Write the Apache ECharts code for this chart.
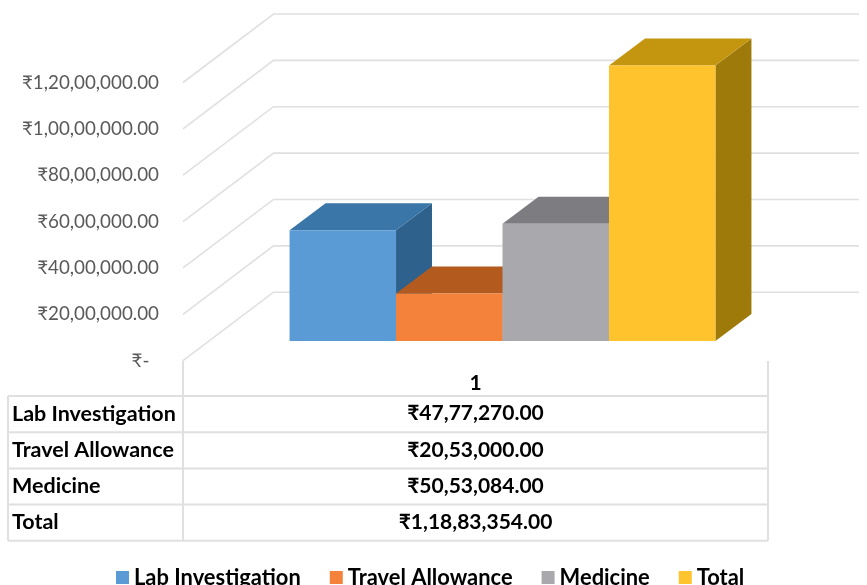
<!DOCTYPE html>
<html>
<head>
<meta charset="utf-8">
<style>
  html, body { margin: 0; padding: 0; background: #fff; }
  #chart { width: 867px; height: 585px; }
</style>
<script src="https://cdn.jsdelivr.net/npm/echarts@6/dist/echarts.min.js"></script>
</head>
<body>
<div id="chart"></div>
<script>
// data
const categories = ['1'];
const seriesNames = ['Lab Investigation', 'Travel Allowance', 'Medicine', 'Total'];
const seriesValues = [4777270, 2053000, 5053084, 11883354];
const tableValues = ['₹47,77,270.00', '₹20,53,000.00', '₹50,53,084.00', '₹1,18,83,354.00'];
const yTicks = [0, 2000000, 4000000, 6000000, 8000000, 10000000, 12000000];
const yTickLabels = ['₹-  ', '₹20,00,000.00', '₹40,00,000.00', '₹60,00,000.00', '₹80,00,000.00', '₹1,00,00,000.00', '₹1,20,00,000.00'];

// front, top, side colours per bar
const frontColors = ['#5b9bd5', '#f4823a', '#a9a9ad', '#ffc42d'];
const topColors = ['#3a76a8', '#b35a1f', '#7d7d81', '#c4960f'];
const sideColors = ['#2e618b', '#a04f1a', '#66666a', '#9e7a0a'];

const fontName = 'Lato, "Noto Sans", "DejaVu Sans", sans-serif';
const lineColor = '#e0e0e0';

// 3d look, all in pixels
const wallDx = 90.5, wallDy = -68.5, wallRight = 859;
const floorDx = 27, floorDy = -19.7;
const depthDx = 36, depthDy = -27;
const slotRatio = 0.182;

function renderWall(params, api) {
  const p = api.coord([0, api.value(0)]);
  const left = params.coordSys.x;
  return {
    type: 'polyline',
    silent: true,
    shape: { points: [[left, p[1]], [left + wallDx, p[1] + wallDy], [wallRight, p[1] + wallDy]] },
    style: { fill: 'none', stroke: lineColor, lineWidth: 1.6 },
  };
}

function makeBarRender(i) {
  return function (params, api) {
    const band = api.size([1, 0])[0];
    const w = band * slotRatio;
    const top = api.coord([0, api.value(0)]);
    const base = api.coord([0, 0]);
    const x0 = top[0] + floorDx + (i - 2) * w;
    const x1 = x0 + w;
    const y0 = base[1] + floorDy;
    const y1 = top[1] + floorDy;
    return {
      type: 'group',
      children: [
        {
          type: 'polygon',
          shape: { points: [[x1, y0], [x1 + depthDx, y0 + depthDy], [x1 + depthDx, y1 + depthDy], [x1, y1]] },
          style: { fill: sideColors[i] },
        },
        {
          type: 'polygon',
          shape: { points: [[x0, y1], [x0 + depthDx, y1 + depthDy], [x1 + depthDx, y1 + depthDy], [x1, y1]] },
          style: { fill: topColors[i] },
        },
        {
          type: 'rect',
          shape: { x: x0, y: y1, width: w, height: y0 - y1 },
          style: { fill: frontColors[i] },
        },
      ],
    };
  };
}

// data table under the plot
const tableLeft = 8, tableCol = 183, tableRight = 768;
const tableTop = 396, rowHeight = 36.2;
const tableElements = [];

function tableLine(x1, y1, x2, y2) {
  tableElements.push({
    type: 'line',
    silent: true,
    shape: { x1: x1, y1: y1, x2: x2, y2: y2 },
    style: { stroke: lineColor, lineWidth: 2 },
  });
}

seriesNames.forEach((name, i) => {
  const y = tableTop + i * rowHeight;
  tableLine(tableLeft, y, tableRight, y);
  tableElements.push({
    type: 'text',
    x: 12,
    y: y + rowHeight / 2 - 0.5,
    style: { text: name, fill: '#000', font: 'bold 21.5px ' + fontName, textAlign: 'left', textVerticalAlign: 'middle' },
  });
  tableElements.push({
    type: 'text',
    x: (tableCol + tableRight) / 2,
    y: y + rowHeight / 2 - 0.5,
    style: { text: tableValues[i], fill: '#000', font: 'bold 21px ' + fontName, textAlign: 'center', textVerticalAlign: 'middle' },
  });
});
const tableBottom = tableTop + seriesNames.length * rowHeight;
tableLine(tableLeft, tableBottom, tableRight, tableBottom);
tableLine(tableLeft, tableTop, tableLeft, tableBottom);
tableLine(tableCol, 360.7, tableCol, tableBottom);
tableLine(tableRight, 361, tableRight, tableBottom);

const series = [
  {
    name: 'walls',
    type: 'custom',
    renderItem: renderWall,
    data: yTicks.map((v) => [v]),
    encode: { y: 0 },
    silent: true,
    z: 1,
  },
];
seriesNames.forEach((name, i) => {
  series.push({
    name: name,
    type: 'custom',
    renderItem: makeBarRender(i),
    data: [[seriesValues[i]]],
    encode: { y: 0 },
    itemStyle: { color: frontColors[i] },
    z: 2 + i,
  });
});

const myChart = echarts.init(document.getElementById('chart'), null, { renderer: 'canvas' });
myChart.setOption({
  animation: false,
  backgroundColor: '#fff',
  grid: { left: 183, right: 99, top: 82.5, bottom: 224.3, containLabel: false },
  xAxis: {
    type: 'category',
    data: categories,
    axisLine: { show: false },
    axisTick: { show: false },
    axisLabel: { color: '#000', fontFamily: fontName, fontWeight: 'bold', fontSize: 21, margin: 12 },
  },
  yAxis: {
    type: 'value',
    min: 0,
    max: 12000000,
    interval: 2000000,
    axisLine: { show: false },
    axisTick: { show: false },
    splitLine: { show: false },
    axisLabel: {
      color: '#595959',
      fontFamily: fontName,
      fontSize: 18.8,
      margin: 24,
      padding: [3, 0, 0, 0],
      formatter: (v) => yTickLabels[yTicks.indexOf(v)],
    },
  },
  legend: {
    data: seriesNames,
    icon: 'rect',
    left: 116,
    top: 566.5,
    padding: 0,
    itemWidth: 13,
    itemHeight: 13,
    itemGap: 29,
    textStyle: { color: '#000', fontFamily: fontName, fontWeight: 'bold', fontSize: 21.9 },
    selectedMode: false,
  },
  graphic: tableElements,
  series: series,
});
</script>
</body>
</html>
